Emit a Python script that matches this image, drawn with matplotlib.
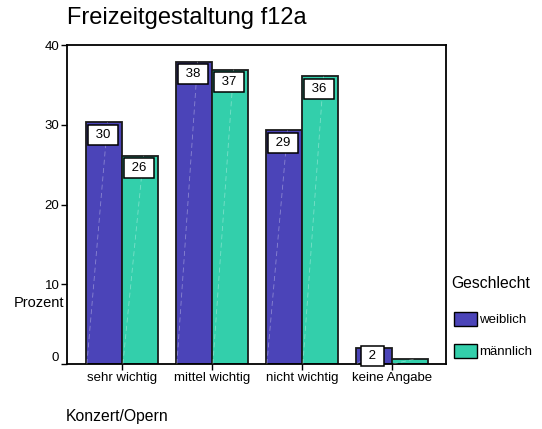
import numpy as np
import matplotlib.pyplot as plt
from matplotlib.patches import Patch

plt.rcParams['font.family'] = ['Liberation Sans', 'DejaVu Sans']

# Data
categories = ['sehr wichtig', 'mittel wichtig', 'nicht wichtig', 'keine Angabe']
weiblich = [30.3, 37.9, 29.3, 2.0]
maennlich = [26.1, 36.9, 36.1, 0.6]
series_names = ['weiblich', 'männlich']

blue = '#4B44B8'
green = '#33CFAB'

fig = plt.figure(figsize=(5.42, 4.29), dpi=100)
ax = fig.add_axes([67 / 542, 1 - 364 / 429, 379 / 542, 319 / 429])

x = np.arange(len(categories))
w = 0.4
bars_w = ax.bar(x - w / 2, weiblich, w, color=blue, edgecolor='#1a1a1a', linewidth=1.3)
bars_m = ax.bar(x + w / 2, maennlich, w, color=green, edgecolor='#1a1a1a', linewidth=1.3)

# faint dashed streak inside each bar
for bars in (bars_w, bars_m):
    for b in bars:
        x0, h = b.get_x(), b.get_height()
        ax.plot([x0 + 0.01, x0 + b.get_width() * 0.6], [0, h], color='white',
                lw=0.6, alpha=0.35, ls=(0, (6, 4)), zorder=3)

# value boxes just under the top of each bar (short bars: box sits on the top)
for bars in (bars_w, bars_m):
    for b in bars:
        h = b.get_height()
        if h < 1:
            continue
        dy = -9 if h > 5 else -5.5
        ax.annotate(f' {h:.0f} ', xy=(b.get_x() + b.get_width() / 2, h),
                    xytext=(-1, dy), textcoords='offset points',
                    ha='center', va='center', fontsize=9.5, zorder=5,
                    bbox=dict(boxstyle='square,pad=0.3', fc='white', ec='black', lw=1.1))

ax.set_xlim(-0.611, 3.6)
ax.set_ylim(0, 40)
ax.set_yticks([0, 10, 20, 30, 40])
ax.set_xticks(x)
ax.set_xticklabels(categories, fontsize=9.5)
ax.tick_params(axis='y', labelsize=9.5, length=4, width=1, pad=1.5)
ax.tick_params(axis='x', length=4, width=1, pad=2)
ax.get_yticklabels()[0].set_va('bottom')
for s in ax.spines.values():
    s.set_linewidth(1.3)

fig.text(67 / 542, 1 - 18 / 429, 'Freizeitgestaltung f12a', fontsize=17,
         ha='left', va='center')
fig.text(14 / 542, 1 - 303 / 429, 'Prozent', fontsize=10.5, ha='left', va='center',
         zorder=-1)
fig.text(66 / 542, 1 - 417 / 429, 'Konzert/Opern', fontsize=11.3, ha='left', va='center')

fig.text(451 / 542, 1 - 283 / 429, 'Geschlecht', fontsize=11.3, ha='left', va='center')
handles = [Patch(facecolor=blue, edgecolor='black'), Patch(facecolor=green, edgecolor='black')]
fig.legend(handles, series_names, loc='upper left',
           bbox_to_anchor=(451 / 542, 1 - 309 / 429), frameon=False,
           fontsize=9.5, handlelength=1.75, handleheight=1.25, handletextpad=0.15,
           labelspacing=1.35, borderpad=0.2, borderaxespad=0)

fig.savefig('out.png', dpi=100)
